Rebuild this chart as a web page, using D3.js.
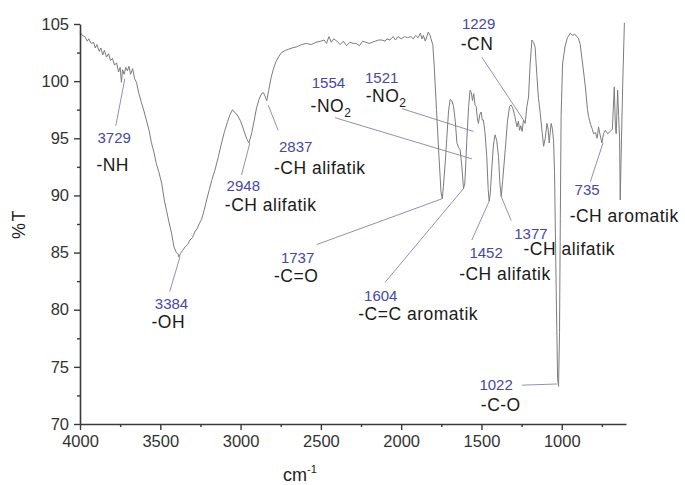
<!DOCTYPE html>
<html>
<head>
<meta charset="utf-8">
<script src="https://cdn.jsdelivr.net/npm/d3@7/dist/d3.min.js"></script>
<style>
body{margin:0;background:#fff;}
svg{font-family:"Liberation Sans",Arial,sans-serif;}
</style>
</head>
<body>
<svg id="chart" width="685" height="485"></svg>
<script>
// spectrum (cm-1 , %T)
const wavenumber = [4000,3985,3970,3955,3945,3930,3915,3905,3895,3880,3870,3858,3848,3835,3822,3810,3798,3785,3772,3760,3750,3742,3735,3725,3715,3705,3695,3685,3672,3660,3648,3635,3617,3600,3585,3570,3555,3540,3525,3510,3492,3475,3460,3445,3430,3415,3400,3390,3384,3375,3360,3345,3330,3315,3300,3285,3270,3255,3243,3225,3210,3195,3180,3160,3140,3120,3100,3080,3065,3050,3040,3030,3015,3000,2985,2973,2960,2948,2940,2930,2915,2900,2885,2870,2858,2848,2837,2825,2810,2797,2780,2760,2745,2720,2700,2680,2651,2620,2590,2560,2530,2500,2480,2465,2450,2435,2420,2400,2380,2360,2340,2320,2298,2280,2260,2240,2220,2200,2180,2160,2140,2120,2100,2090,2070,2050,2035,2020,2000,1980,1960,1940,1924,1910,1895,1880,1870,1862,1850,1840,1831,1820,1810,1803,1795,1780,1765,1752,1744,1737,1725,1716,1705,1695,1685,1674,1663,1653,1643,1633,1622,1612,1604,1597,1591,1580,1571,1563,1556,1548,1540,1533,1526,1519,1510,1502,1495,1488,1478,1467,1458,1452,1445,1435,1425,1415,1405,1394,1385,1377,1368,1352,1338,1325,1315,1304,1292,1279,1270,1263,1255,1247,1238,1228,1217,1207,1197,1186,1176,1166,1155,1145,1134,1122,1113,1103,1092,1085,1078,1072,1066,1058,1051,1045,1035,1026,1020,1014,1009,1004,995,980,965,947,935,920,905,895,885,870,853,840,833,820,810,802,790,780,771,760,750,740,729,715,698,685,673,666,661,652,646,640,636,628,620,610];
const transmittance = [104.3,104.0,103.9,103.5,103.7,103.3,103.4,102.9,103.2,102.6,102.9,102.3,102.7,102.1,102.4,101.8,102.0,101.4,101.6,100.8,101.2,99.9,101.0,100.6,101.2,100.9,101.3,100.6,101.1,100.2,99.9,99.0,98.1,97.3,96.5,95.7,94.6,93.8,92.8,92.1,91.1,89.6,88.6,87.6,86.7,85.5,85.0,84.9,84.6,84.9,85.2,85.5,85.7,86.1,86.3,86.8,87.1,87.6,87.9,88.8,89.7,90.5,91.3,92.2,93.3,94.5,95.6,96.5,97.1,97.5,97.3,97.2,96.9,96.5,95.9,95.4,94.9,94.6,95.0,95.5,96.6,97.7,98.4,98.9,99.0,98.7,98.3,99.2,100.3,101.0,101.7,102.2,102.5,102.7,102.8,102.9,103.0,103.2,103.3,103.2,103.4,103.5,103.6,103.3,103.9,103.4,103.7,103.5,103.2,103.5,103.1,103.4,103.3,103.3,103.1,103.5,103.4,103.3,103.4,103.5,103.6,103.6,103.5,103.7,103.6,103.9,103.6,103.9,103.7,103.9,103.8,103.9,103.7,104.0,103.8,104.2,103.7,104.0,103.5,103.9,104.3,104.0,103.5,103.2,101.5,97.5,93.5,90.3,89.7,90.8,93.0,95.0,97.4,98.4,98.3,97.8,96.5,94.6,94.2,94.0,92.5,90.6,91.0,93.0,94.9,97.8,99.2,99.0,98.3,98.9,97.9,97.8,96.8,96.3,97.1,97.3,96.6,96.6,95.5,93.4,90.5,89.5,90.2,92.5,94.5,95.3,94.8,93.4,91.0,89.9,91.3,94.0,96.5,97.8,97.9,97.6,96.9,96.0,96.5,95.7,96.1,95.6,96.6,96.3,97.8,98.6,101.5,103.6,103.4,103.0,100.5,98.5,97.2,95.5,94.3,95.0,96.3,95.8,94.6,95.5,96.3,95.8,94.8,92.0,82.0,74.0,73.3,78.0,88.0,97.0,101.5,103.0,103.8,104.2,104.0,104.1,103.9,103.7,103.2,101.5,99.5,97.5,96.9,96.2,95.8,95.4,95.5,95.0,96.0,95.2,94.6,95.4,95.7,95.4,95.6,95.8,99.5,96.0,95.4,99.2,97.0,95.1,89.6,95.0,100.0,105.1];

// assigned bands
const peakWave  = [3729, 3384, 2948, 2837, 1554, 1521, 1737, 1604, 1452, 1377, 1229, 1022, 735];
const peakGroup = ['-NH', '-OH', '-CH alifatik', '-CH alifatik', '-NO2', '-NO2', '-C=O', '-C=C aromatik', '-CH alifatik', '-CH alifatik', '-CN', '-C-O', '-CH aromatik'];

const xMajor = [4000, 3500, 3000, 2500, 2000, 1500, 1000];
const xMinor = [3750, 3250, 2750, 2250, 1750, 1250, 750];
const yMajor = [70, 75, 80, 85, 90, 95, 100, 105];
const yMinor = [72.5, 77.5, 82.5, 87.5, 92.5, 97.5, 102.5];

// where each label sits, in data units (number, group name, leader start -> leader end)
const labelLayout = [
    {num:[3891,94.6], grp:[3898,92.1], from:[3777,96.1], to:[3721,100.2]},
    {num:[3534,80.1], grp:[3555,78.4], from:[3441,81.6], to:[3378,84.6]},
    {num:[3087,90.4], grp:[3098,88.6], from:[2994,91.8], to:[2942,94.6]},
    {num:[2761,93.8], grp:[2792,91.9], from:[2766,95.7], to:[2828,97.9]},
    {num:[2557,99.4], grp:[2564,97.3], from:[2412,96.8], to:[1560,93.2]},
    {num:[2225,99.8], grp:[2221,98.2], from:[1996,97.6], to:[1550,95.6]},
    {num:[2749,84.1], grp:[2792,82.4], from:[2526,85.7], to:[1747,89.7]},
    {num:[2231,80.8], grp:[2267,79.1], from:[2100,82.4], to:[1612,90.6]},
    {num:[1575,84.5], grp:[1639,82.6], from:[1560,86.1], to:[1452,89.5]},
    {num:[1296,86.2], grp:[1238,84.8], from:[1315,87.8], to:[1377,89.9]},
    {num:[1622,104.6], grp:[1629,102.7], from:[1498,102.1], to:[1238,96.6]},
    {num:[1513,73.0], grp:[1504,71.1], from:[1248,73.4], to:[1030,73.5]},
    {num:[920,90.0], grp:[951,87.7], from:[822,91.2], to:[743,94.6]}
];

const margin = {top: 24, right: 59, bottom: 61, left: 80};
const width = 685, height = 485;
const innerWidth = width - margin.left - margin.right;
const innerHeight = height - margin.top - margin.bottom;

const svg = d3.select('#chart');
const g = svg.append('g').attr('transform', `translate(${margin.left},${margin.top})`);

const x = d3.scaleLinear().domain([4000, 600]).range([0, innerWidth]);
const y = d3.scaleLinear().domain([70, 105]).range([innerHeight, 0]);

const spectrum = wavenumber.map((w, i) => ({w: w, t: transmittance[i]}));

// leader lines go under the trace
g.selectAll('line.leader')
    .data(labelLayout)
    .join('line')
    .attr('class', 'leader')
    .attr('x1', d => x(d.from[0])).attr('y1', d => y(d.from[1]))
    .attr('x2', d => x(d.to[0])).attr('y2', d => y(d.to[1]))
    .attr('stroke', '#9090b8')
    .attr('stroke-width', 1);

const line = d3.line().x(d => x(d.w)).y(d => y(d.t));
g.append('path')
    .datum(spectrum)
    .attr('d', line)
    .attr('fill', 'none')
    .attr('stroke', '#7c7c7c')
    .attr('stroke-width', 1);

// axes
const axisColor = '#3a3a3a';
g.append('g').attr('transform', `translate(0,${innerHeight})`)
    .call(d3.axisBottom(x).tickValues(xMajor).tickFormat(d3.format('d')).tickSize(6).tickSizeOuter(0).tickPadding(5));
g.append('g').attr('transform', `translate(0,${innerHeight})`)
    .call(d3.axisBottom(x).tickValues(xMinor).tickSize(3).tickSizeOuter(0).tickFormat(''))
    .select('.domain').remove();
g.append('g')
    .call(d3.axisLeft(y).tickValues(yMajor).tickSize(6).tickSizeOuter(0).tickPadding(5));
g.append('g')
    .call(d3.axisLeft(y).tickValues(yMinor).tickSize(3).tickSizeOuter(0).tickFormat(''))
    .select('.domain').remove();

g.selectAll('.domain').attr('stroke', axisColor).attr('stroke-width', 1.6);
g.selectAll('.tick line').attr('stroke', axisColor).attr('stroke-width', 1.4);
g.selectAll('.tick text')
    .attr('fill', '#333')
    .style('font-size', '16.5px')
    .style('font-family', '"Liberation Sans",Arial,sans-serif');

// axis titles
svg.append('text')
    .attr('transform', `translate(25,${margin.top + innerHeight / 2}) rotate(-90)`)
    .attr('text-anchor', 'middle')
    .attr('fill', '#222')
    .style('font-size', '18px')
    .style('letter-spacing', '1.5px')
    .text('%T');

const xt = svg.append('text')
    .attr('x', 283)
    .attr('y', 481)
    .attr('fill', '#222')
    .style('font-size', '18px');
xt.append('tspan').text('cm');
xt.append('tspan').attr('dy', -8).style('font-size', '11px').text('-1');

// band labels
const labels = g.selectAll('g.band')
    .data(peakWave.map((w, i) => ({w: w, group: peakGroup[i], lay: labelLayout[i]})))
    .join('g')
    .attr('class', 'band');

labels.append('text')
    .attr('x', d => x(d.lay.num[0]))
    .attr('y', d => y(d.lay.num[1]))
    .attr('fill', '#4747a6')
    .style('font-size', '15px')
    .text(d => d.w);

labels.append('text')
    .attr('x', d => x(d.lay.grp[0]))
    .attr('y', d => y(d.lay.grp[1]))
    .attr('fill', '#1a1a1a')
    .style('font-size', '17.5px')
    .style('letter-spacing', '0.5px')
    .each(function (d) {
        const t = d3.select(this);
        if (d.group.endsWith('2')) {
            t.append('tspan').text(d.group.slice(0, -1));
            t.append('tspan').attr('dy', 5).style('font-size', '12px').text('2');
        } else {
            t.text(d.group);
        }
    });
</script>
</body>
</html>
